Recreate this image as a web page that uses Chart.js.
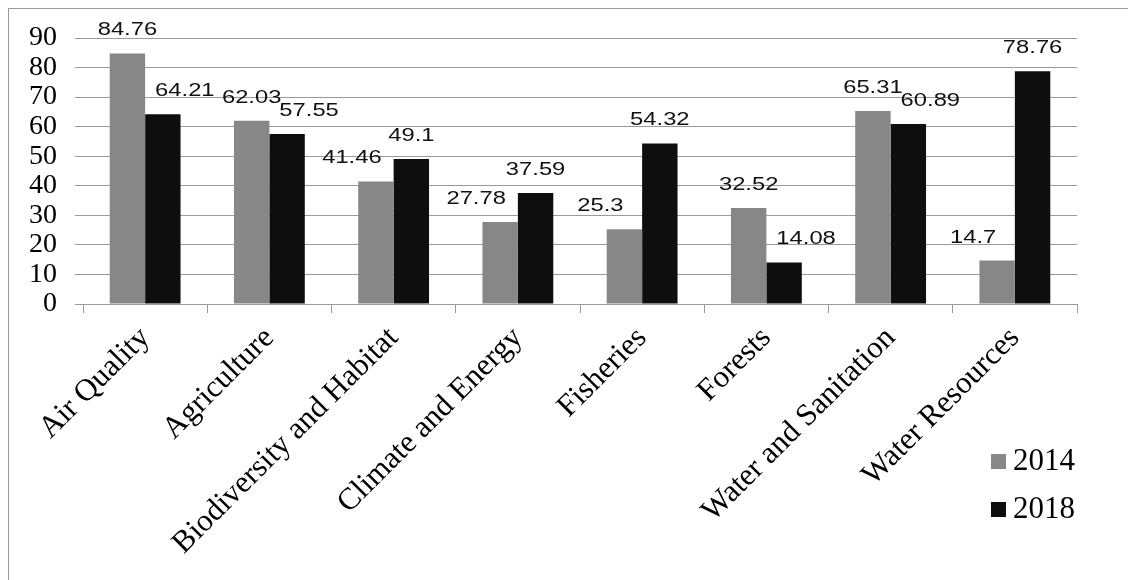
<!DOCTYPE html>
<html>
<head>
<meta charset="utf-8">
<script src="https://cdn.jsdelivr.net/npm/chart.js@4.4.1/dist/chart.umd.min.js"></script>
<style>
  html, body { margin: 0; padding: 0; background: #fff; }
</style>
</head>
<body>
<canvas id="chartScores" width="1128" height="580"></canvas>
<script>
var categories = ["Air Quality", "Agriculture", "Biodiversity and Habitat", "Climate and Energy", "Fisheries", "Forests", "Water and Sanitation", "Water Resources"];
var seriesNames = ["2014", "2018"];
var values2014 = [84.76, 62.03, 41.46, 27.78, 25.3, 32.52, 65.31, 14.7];
var values2018 = [64.21, 57.55, 49.1, 37.59, 54.32, 14.08, 60.89, 78.76];
var yTicks = [0, 10, 20, 30, 40, 50, 60, 70, 80, 90];

var serif = "'Liberation Serif', 'Times New Roman', serif";
var sans = "'Liberation Sans', Arial, sans-serif";

// white page + thin frame around the whole figure
var framePlugin = {
  id: 'frame',
  beforeDraw: function (chart) {
    var ctx = chart.ctx;
    ctx.save();
    ctx.fillStyle = '#fff';
    ctx.fillRect(0, 0, chart.width, chart.height);
    ctx.strokeStyle = '#9a9a9a';
    ctx.lineWidth = 1;
    ctx.strokeRect(8.5, 8.5, chart.width, chart.height);
    ctx.restore();
  }
};

// value labels above each bar; the label of the shorter bar in a pair
// is pushed outwards so it doesn't sit on the taller neighbour
var valueLabels = {
  id: 'valueLabels',
  afterDatasetsDraw: function (chart) {
    var ctx = chart.ctx;
    var sets = chart.data.datasets;
    ctx.save();
    ctx.fillStyle = '#111';
    ctx.font = '18px ' + sans;
    ctx.textAlign = 'center';
    ctx.textBaseline = 'alphabetic';
    sets.forEach(function (ds, i) {
      var other = sets[1 - i];
      chart.getDatasetMeta(i).data.forEach(function (bar, j) {
        var dx = 0;
        if (ds.data[j] < other.data[j]) dx = i === 0 ? -24 : 22;
        ctx.save();
        ctx.translate(bar.x + dx, bar.y - 18);
        ctx.scale(1.32, 1);
        ctx.fillText(String(ds.data[j]), 0, 0);
        ctx.restore();
      });
    });
    ctx.restore();
  }
};

// legend in the lower right corner
var cornerLegend = {
  id: 'cornerLegend',
  afterDraw: function (chart) {
    var ctx = chart.ctx;
    ctx.save();
    ctx.font = '31px ' + serif;
    ctx.textBaseline = 'middle';
    chart.data.datasets.forEach(function (ds, i) {
      var y = 461 + i * 48;
      ctx.fillStyle = ds.backgroundColor;
      ctx.fillRect(991, y - 7, 15, 15);
      ctx.fillStyle = '#000';
      ctx.fillText(ds.label, 1013, y + 1);
    });
    ctx.restore();
  }
};

var ctx = document.getElementById('chartScores').getContext('2d');
var chartScores = new Chart(ctx, {
  type: 'bar',
  data: {
    labels: categories,
    datasets: [{
      label: seriesNames[0],
      backgroundColor: '#878787',
      data: values2014
    }, {
      label: seriesNames[1],
      backgroundColor: '#0e0e0e',
      data: values2018
    }]
  },
  options: {
    responsive: false,
    devicePixelRatio: 1,
    animation: false,
    categoryPercentage: 0.57,
    barPercentage: 1,
    layout: { padding: { top: 38, right: 51, left: 0, bottom: 0 } },
    plugins: {
      legend: { display: false },
      tooltip: { enabled: false }
    },
    scales: {
      x: {
        grid: { offset: true, drawOnChartArea: false, tickLength: 9, color: '#9a9a9a' },
        border: { color: '#9a9a9a' },
        ticks: {
          autoSkip: false,
          maxRotation: 45,
          minRotation: 45,
          padding: 7,
          color: '#000',
          font: { family: serif, size: 31 }
        },
        afterFit: function (scale) { scale.height = 276; }
      },
      y: {
        min: yTicks[0],
        max: yTicks[yTicks.length - 1],
        grid: { color: '#9a9a9a', tickLength: 8 },
        border: { display: false },
        ticks: {
          autoSkip: false,
          stepSize: yTicks[1] - yTicks[0],
          padding: 18,
          color: '#000',
          font: { family: serif, size: 28 }
        },
        afterFit: function (scale) { scale.width = 83; }
      }
    }
  },
  plugins: [framePlugin, valueLabels, cornerLegend]
});
</script>
</body>
</html>
